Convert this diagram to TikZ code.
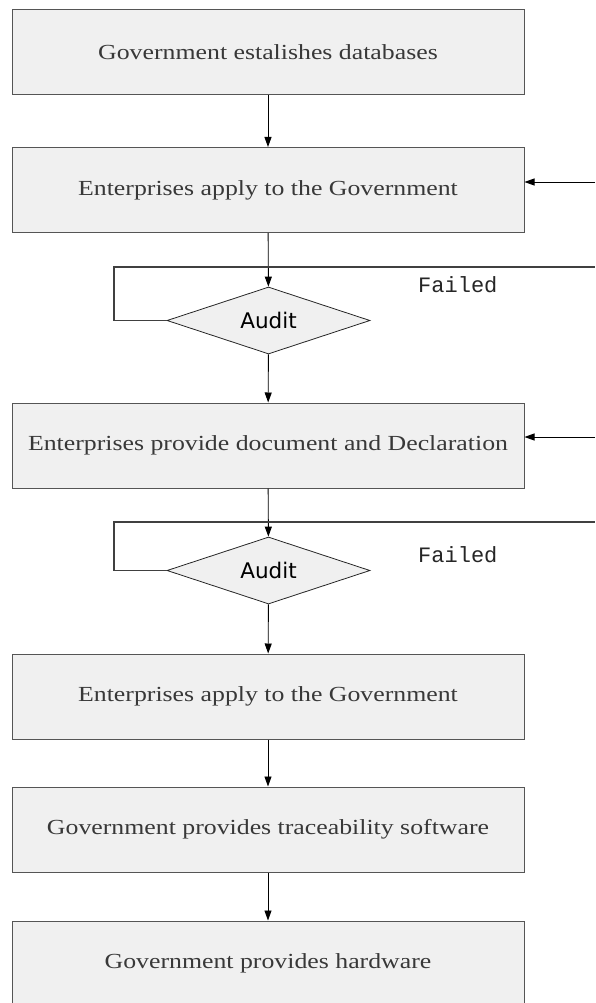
\documentclass[tikz,border=0pt]{standalone}
\usepackage{fontspec}
\setmainfont{Liberation Serif}
\newfontfamily\auditfont{DejaVu Sans}
\newfontfamily\failfont{Liberation Mono}
\usetikzlibrary{shapes.geometric,arrows.meta}
\definecolor{boxfill}{HTML}{F0F0F0}
\definecolor{boxline}{HTML}{555555}
\definecolor{txt}{HTML}{383838}
\newcommand{\wide}[1]{\scalebox{1.2}[1]{#1}}
\tikzset{
  stepbox/.style={rectangle, fill=boxfill, draw=boxline, line width=1pt,
    minimum width=512pt, minimum height=85pt, inner sep=0pt,
    font=\fontsize{21.5}{24}\selectfont, text=txt},
  audit/.style={diamond, aspect=3, fill=boxfill, draw=black!85, line width=0.8pt,
    minimum width=203pt, minimum height=67pt, inner sep=0pt,
    font=\auditfont\fontsize{21.5}{24}\selectfont, text=black},
  arr/.style={draw=black, line width=0.9pt, -{Triangle[width=7pt,length=10pt]}},
  loopline/.style={draw=black!75, line width=1.1pt},
  failtxt/.style={font=\failfont\fontsize{22}{24}\selectfont, text=black!85, anchor=west, inner sep=0pt}
}
\begin{document}
\begin{tikzpicture}[x=1pt,y=-1pt]
\useasboundingbox (0,0) rectangle (595,1003);
\node[stepbox] (b1) at (268,52) {\wide{Government estalishes databases}};
\node[stepbox] (b2) at (268,190) {\wide{Enterprises apply to the Government}};
\node[audit] (d1) at (268.5,320.5) {Audit};
\node[stepbox] (b3) at (268,445.5) {\wide{Enterprises provide document and Declaration}};
\node[audit] (d2) at (268.5,570.5) {Audit};
\node[stepbox] (b4) at (268,696.5) {\wide{Enterprises apply to the Government}};
\node[stepbox] (b5) at (268,829.5) {\wide{Government provides traceability software}};
\node[stepbox] (b6) at (268,963.5) {\wide{Government provides hardware}};

\node[failtxt] (f1) at (418,285) {Failed};
\node[failtxt] (f2) at (418,555) {Failed};

\coordinate (l1) at (114,267);
\coordinate (r1) at (595,267);
\coordinate (l2) at (114,522);
\coordinate (r2) at (595,522);
\coordinate (in1) at (595,182);
\coordinate (in2) at (595,437);

\draw[arr] (b1) -- (b2);
\draw[arr] (b2) -- (d1);
\draw[arr] (d1) -- (b3);
\draw[arr] (b3) -- (d2);
\draw[arr] (d2) -- (b4);
\draw[arr] (b4) -- (b5);
\draw[arr] (b5) -- (b6);

\draw[loopline] (d1.west) -| (l1) -- (r1);
\draw[loopline] (d2.west) -| (l2) -- (r2);
\draw[arr] (in1) -- (b2.east |- in1);
\draw[arr] (in2) -- (b3.east |- in2);
\end{tikzpicture}
\end{document}
